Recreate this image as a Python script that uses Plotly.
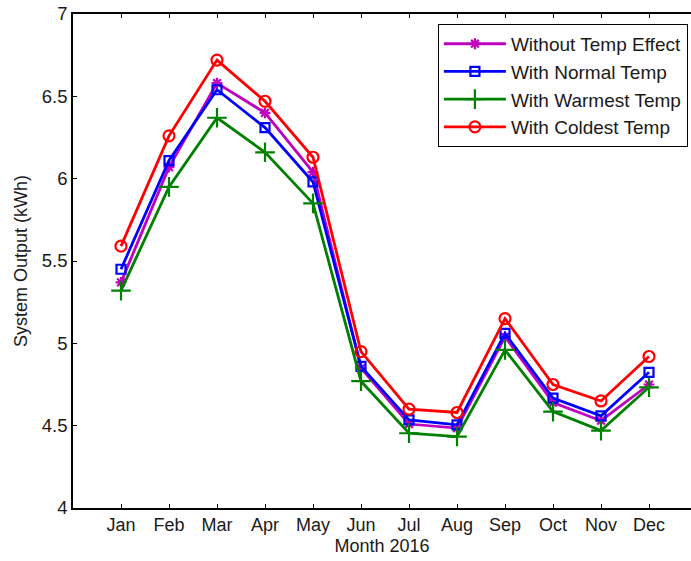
import plotly.graph_objects as go

months = ["Jan", "Feb", "Mar", "Apr", "May", "Jun", "Jul", "Aug", "Sep", "Oct", "Nov", "Dec"]
month_idx = list(range(1, 13))

without_temp = [5.37, 6.07, 6.58, 6.40, 6.04, 4.85, 4.51, 4.485, 5.04, 4.64, 4.53, 4.75]
normal_temp = [5.45, 6.11, 6.54, 6.31, 5.98, 4.86, 4.535, 4.505, 5.06, 4.667, 4.56, 4.824]
warmest_temp = [5.32, 5.95, 6.37, 6.16, 5.85, 4.77, 4.454, 4.434, 4.96, 4.585, 4.47, 4.733]
coldest_temp = [5.59, 6.26, 6.72, 6.47, 6.13, 4.95, 4.60, 4.58, 5.15, 4.75, 4.65, 4.92]

series = [
    ("Without Temp Effect", without_temp, "#BF00BF", "asterisk-open", 9),
    ("With Normal Temp", normal_temp, "#0000FF", "square-open", 9),
    ("With Warmest Temp", warmest_temp, "#008000", "cross-thin-open", 14),
    ("With Coldest Temp", coldest_temp, "#FF0000", "circle-open", 11),
]

fig = go.Figure()
for i, (name, vals, color, sym, size) in enumerate(series):
    fig.add_trace(go.Scatter(
        x=month_idx, y=vals, name=name, mode="lines+markers",
        line=dict(color=color, width=2.8),
        marker=dict(symbol=sym, size=size, color=color, line=dict(color=color, width=2.2)),
    ))

font_family = "Liberation Sans, Arial, sans-serif"
fig.update_layout(
    width=691, height=561,
    margin=dict(l=73, r=0, t=14, b=53),
    plot_bgcolor="white", paper_bgcolor="white",
    font=dict(family=font_family, size=18, color="#1a1a1a"),
    showlegend=True,
    legend=dict(
        x=0.995, y=0.98, xanchor="right", yanchor="top",
        bgcolor="white", bordercolor="black", borderwidth=1,
        font=dict(size=19, family=font_family),
        tracegroupgap=0, itemwidth=62,
    ),
    xaxis=dict(
        range=[0, 12.875], tickvals=month_idx, ticktext=months,
        showline=True, linecolor="black", linewidth=1.5, mirror="ticks",
        ticks="inside", ticklen=4, tickcolor="black", showgrid=False, zeroline=False,
        title=dict(text="Month 2016", font=dict(size=18), standoff=5),
        tickfont=dict(size=18),
    ),
    yaxis=dict(
        range=[4, 7], tickvals=[4, 4.5, 5, 5.5, 6, 6.5, 7],
        ticktext=["4", "4.5", "5", "5.5", "6", "6.5", "7"],
        showline=True, linecolor="black", linewidth=1.5,
        ticks="inside", ticklen=4, tickcolor="black", showgrid=False, zeroline=False,
        title=dict(text="System Output (kWh)", font=dict(size=18), standoff=10),
        tickfont=dict(size=18.5),
    ),
)

fig.write_html("out.html")
